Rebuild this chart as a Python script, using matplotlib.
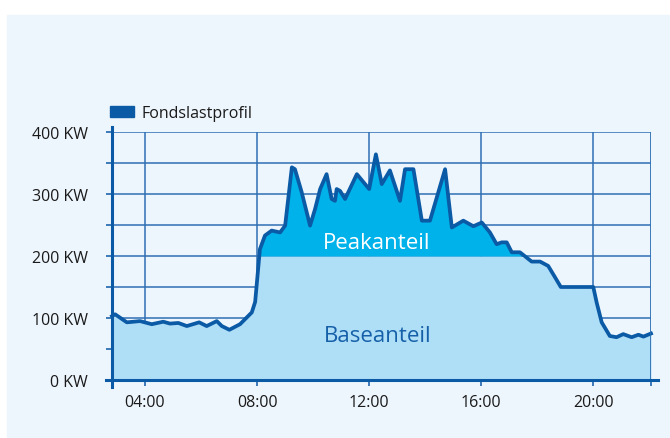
import numpy as np
import matplotlib.pyplot as plt
from matplotlib.patches import Patch, Rectangle

plt.rcParams['font.family'] = ['Open Sans', 'DejaVu Sans']

# Lastprofil: Stunde (dezimal) / Leistung in KW
hours = [2.82, 2.93, 3.35, 3.82, 4.24, 4.65, 4.89, 5.19, 5.49, 5.93, 6.20, 6.56,
         6.74, 7.01, 7.39, 7.81, 7.93, 8.10, 8.28, 8.52, 8.82, 9.00, 9.11, 9.24,
         9.35, 9.59, 9.89, 10.07, 10.25, 10.48, 10.66, 10.78, 10.84, 10.96, 11.14,
         11.56, 12.00, 12.24, 12.45, 12.74, 13.10, 13.28, 13.58, 13.88, 14.17,
         14.71, 14.95, 15.36, 15.72, 16.02, 16.31, 16.55, 16.73, 16.91, 17.09,
         17.38, 17.80, 18.10, 18.39, 18.63, 18.84, 20.00, 20.12, 20.30, 20.59,
         20.83, 21.07, 21.37, 21.61, 21.79, 22.06]
load = [103, 106, 93, 95, 90, 94, 91, 92, 87, 93, 87, 95,
        87, 81, 90, 109, 126, 211, 233, 241, 238, 249, 292, 343,
        340, 303, 249, 276, 308, 332, 292, 289, 308, 305, 292,
        332, 308, 364, 316, 338, 289, 340, 340, 257, 257,
        340, 246, 257, 248, 254, 238, 219, 222, 222, 206,
        206, 191, 191, 184, 166, 150, 150, 125, 93, 71,
        69, 74, 69, 73, 70, 75]
base_level = 200
xticks = [4, 8, 12, 16, 20]
xlabels = ['04:00', '08:00', '12:00', '16:00', '20:00']
yticks = [0, 100, 200, 300, 400]
ylabels = ['0 KW', '100 KW', '200 KW', '300 KW', '400 KW']

line_c = '#0b5aa6'
peak_c = '#00b2ea'
base_c = '#afdef7'
grid_c = '#2f6fb3'
bg_c = '#eef6fd'

W, H = 670, 439
fig = plt.figure(figsize=(W / 100, H / 100), dpi=100, facecolor='white')
fig.patches.append(Rectangle((7 / W, 0), 1, 1 - 16 / H, transform=fig.transFigure,
                             color=bg_c, zorder=-10))
x0, x1, y0, y1 = 112, 651, 381, 133
ax = fig.add_axes([x0 / W, 1 - y0 / H, (x1 - x0) / W, (y0 - y1) / H])
ax.set_facecolor('none')
xmin, xmax = hours[0], hours[-1]
ax.set_xlim(xmin, xmax)
ax.set_ylim(0, 400)

h = np.array(hours)
v = np.array(load)
ax.fill_between(h, 0, np.minimum(v, base_level), color=base_c, lw=0, zorder=2)
ax.fill_between(h, base_level, v, where=v >= base_level, interpolate=True,
                color=peak_c, lw=0, zorder=2)
ax.plot(h, v, color=line_c, lw=2.7, solid_joinstyle='round', zorder=4, clip_on=False)

# Gitter
for yy in np.arange(50, 401, 50):
    ax.axhline(yy, color=grid_c, lw=1.1, zorder=1)
for xx in xticks:
    ax.axvline(xx, color=grid_c, lw=1.1, zorder=1)
ax.axvline(xmax, color=grid_c, lw=1.3, zorder=5)

for s in ax.spines.values():
    s.set_visible(False)
ax.plot([-6 / (x1 - x0), 1 + 7 / (x1 - x0)], [0, 0], transform=ax.transAxes,
        color=line_c, lw=2.2, clip_on=False, zorder=6)
ax.plot([0, 0], [-7 / (y0 - y1), 1 + 5 / (y0 - y1)], transform=ax.transAxes,
        color=line_c, lw=2.2, clip_on=False, zorder=6)

ax.set_yticks(np.arange(0, 401, 50), minor=True)
ax.set_yticks(yticks, ylabels)
ax.set_xticks([xmin] + xticks + [xmax], [''] + xlabels + [''])
ax.tick_params(axis='both', which='both', color=grid_c, width=1.3, length=4.3,
               labelsize=11.5, labelcolor='#1a1a1a', direction='out')
ax.tick_params(axis='y', pad=13)
ax.tick_params(axis='x', pad=6)

ax.text(12.28, 221, 'Peakanteil', color='white', fontsize=16, ha='center', va='center', zorder=7)
ax.text(12.3, 71, 'Baseanteil', color='#1560a8', fontsize=16, ha='center', va='center', zorder=7)

fig.legend(handles=[Patch(color=line_c, label='Fondslastprofil')], loc='center left',
           bbox_to_anchor=(110 / W, 1 - 114 / H), frameon=False, fontsize=11.5,
           borderpad=0, borderaxespad=0, handlelength=1.5, handleheight=0.75,
           handletextpad=0.45, labelcolor='#1a1a1a')

fig.savefig('out.png', dpi=100, facecolor='white')
